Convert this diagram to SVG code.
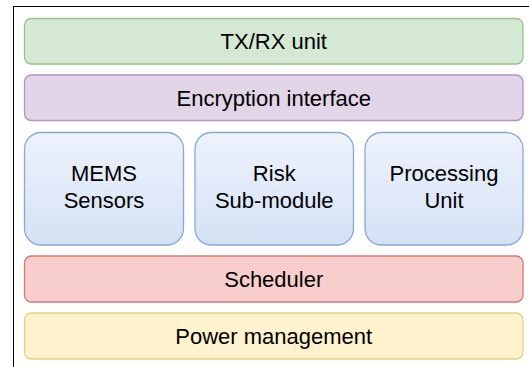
<svg xmlns="http://www.w3.org/2000/svg" width="529" height="367" viewBox="0 0 529 367">
<defs>
<linearGradient id="blueGrad" x1="0" y1="0" x2="0" y2="1">
<stop offset="0" stop-color="#eef3fc"/>
<stop offset="1" stop-color="#d4e1f5"/>
</linearGradient>
<style>
.lbl{font-family:"Liberation Sans",Arial,Helvetica,sans-serif;font-size:22px;fill:#000;text-anchor:middle}
.row{stroke-width:1.3}
</style>
</defs>
<rect width="529" height="367" fill="#ffffff"/>
<rect x="13.5" y="6.5" width="540" height="380" fill="none" stroke="#000" stroke-width="1"/>
<g id="connectors"/>
<g id="txrx">
<rect class="row" x="24.5" y="18.5" width="498.5" height="45.5" rx="6.8" fill="#d5e8d4" stroke="#97c38a"/>
<text class="lbl" x="273.75" y="49">TX/RX unit</text>
</g>
<g id="encryption">
<rect class="row" x="24.5" y="75" width="498.5" height="45.5" rx="6.8" fill="#e1d5e7" stroke="#b193bd"/>
<text class="lbl" x="273.75" y="105.5">Encryption interface</text>
</g>
<g id="mems">
<rect class="row" x="24.5" y="132.5" width="159" height="112.5" rx="16.5" fill="url(#blueGrad)" stroke="#89a8d6"/>
<text class="lbl" x="104" y="181">MEMS</text>
<text class="lbl" x="104" y="208">Sensors</text>
</g>
<g id="risk">
<rect class="row" x="195" y="132.5" width="158.5" height="112.5" rx="16.5" fill="url(#blueGrad)" stroke="#89a8d6"/>
<text class="lbl" x="274.25" y="181">Risk</text>
<text class="lbl" x="274.25" y="208">Sub-module</text>
</g>
<g id="processing">
<rect class="row" x="365" y="132.5" width="158" height="112.5" rx="16.5" fill="url(#blueGrad)" stroke="#89a8d6"/>
<text class="lbl" x="444" y="181">Processing</text>
<text class="lbl" x="444" y="208">Unit</text>
</g>
<g id="scheduler">
<rect class="row" x="24.5" y="256" width="498.5" height="46" rx="6.8" fill="#f8cecc" stroke="#d27a76"/>
<text class="lbl" x="273.75" y="286.5">Scheduler</text>
</g>
<g id="power">
<rect class="row" x="24.5" y="313" width="498.5" height="46" rx="6.8" fill="#fff2cc" stroke="#e6cf85"/>
<text class="lbl" x="273.75" y="343.5">Power management</text>
</g>
</svg>
